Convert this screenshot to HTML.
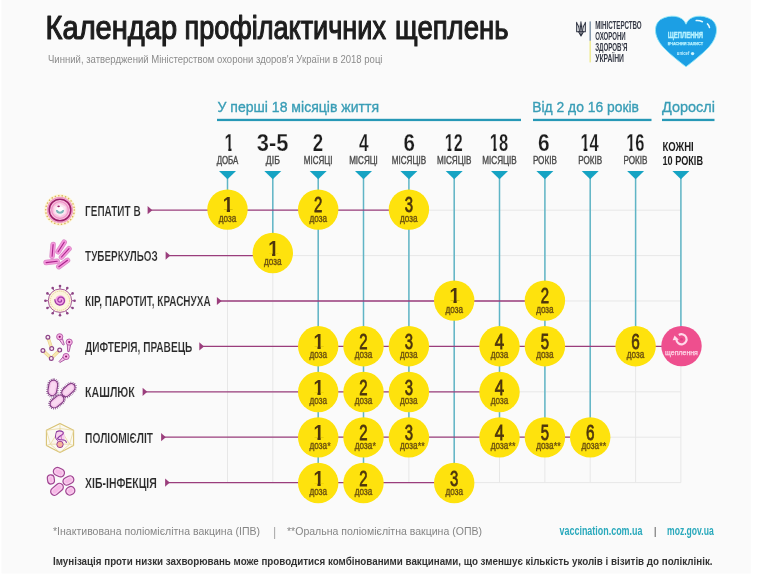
<!DOCTYPE html>
<html lang="uk"><head><meta charset="utf-8"><title>Календар профілактичних щеплень</title>
<style>
html,body{margin:0;padding:0;background:#fff;}
svg{display:block;font-family:'Liberation Sans', sans-serif;}
</style></head><body>
<svg width="772" height="579" viewBox="0 0 772 579">
<defs><filter id="soft" x="0" y="0" width="772" height="579" filterUnits="userSpaceOnUse"><feGaussianBlur stdDeviation="0.45"/></filter>
<clipPath id="hc0"><polygon points="220.22,120.00 238.58,120.00 238.58,156.00 234.20,156.00 234.20,147.70 231.50,147.70 231.50,156.00 228.30,156.00 228.30,147.70 220.22,147.70"/></clipPath>
<clipPath id="hc5"><polygon points="441.72,120.00 468.64,120.00 468.64,156.00 454.10,156.00 454.10,147.70 451.40,147.70 451.40,156.00 447.60,156.00 447.60,147.70 441.72,147.70"/></clipPath>
<clipPath id="hc6"><polygon points="486.73,120.00 514.11,120.00 514.11,156.00 499.30,156.00 499.30,147.70 496.60,147.70 496.60,156.00 493.40,156.00 493.40,147.70 486.73,147.70"/></clipPath>
<clipPath id="hc8"><polygon points="577.39,120.00 604.76,120.00 604.76,156.00 590.10,156.00 590.10,147.70 587.40,147.70 587.40,156.00 583.60,156.00 583.60,147.70 577.39,147.70"/></clipPath>
<clipPath id="hc9"><polygon points="623.15,120.00 650.53,120.00 650.53,156.00 635.30,156.00 635.30,147.70 632.60,147.70 632.60,156.00 629.40,156.00 629.40,147.70 623.15,147.70"/></clipPath>
<clipPath id="c0_0"><polygon points="218.50,191.60 236.50,191.60 236.50,214.60 236.50,214.60 236.50,209.80 230.00,209.80 230.00,214.60 226.80,214.60 226.80,209.80 218.50,209.80"/></clipPath>
<clipPath id="c1_1"><polygon points="263.84,235.00 281.84,235.00 281.84,258.00 281.84,258.00 281.84,253.20 275.34,253.20 275.34,258.00 272.14,258.00 272.14,253.20 263.84,253.20"/></clipPath>
<clipPath id="c2_5"><polygon points="445.20,282.60 463.20,282.60 463.20,305.60 463.20,305.60 463.20,300.80 456.70,300.80 456.70,305.60 453.50,305.60 453.50,300.80 445.20,300.80"/></clipPath>
<clipPath id="c3_2"><polygon points="309.18,328.20 327.18,328.20 327.18,351.20 327.18,351.20 327.18,346.40 320.68,346.40 320.68,351.20 317.48,351.20 317.48,346.40 309.18,346.40"/></clipPath>
<clipPath id="c4_2"><polygon points="309.18,374.00 327.18,374.00 327.18,397.00 327.18,397.00 327.18,392.20 320.68,392.20 320.68,397.00 317.48,397.00 317.48,392.20 309.18,392.20"/></clipPath>
<clipPath id="c5_2"><polygon points="309.18,419.40 327.18,419.40 327.18,442.40 327.18,442.40 327.18,437.60 320.68,437.60 320.68,442.40 317.48,442.40 317.48,437.60 309.18,437.60"/></clipPath>
<clipPath id="c6_2"><polygon points="309.18,465.00 327.18,465.00 327.18,488.00 327.18,488.00 327.18,483.20 320.68,483.20 320.68,488.00 317.48,488.00 317.48,483.20 309.18,483.20"/></clipPath>
</defs>
<g filter="url(#soft)">
<rect x="0" y="0" width="772" height="579" fill="#ffffff"/>
<rect x="1.5" y="0" width="749.3" height="573.5" fill="#fafafa"/>
<text x="45.6" y="38.6" font-size="32.4" fill="#1f1f1f" font-weight="normal" text-anchor="start" textLength="131.5" lengthAdjust="spacingAndGlyphs" stroke="#1f1f1f" stroke-width="1.2" stroke-linejoin="round">Календар</text>
<text x="184.6" y="38.6" font-size="32.4" fill="#1f1f1f" font-weight="normal" text-anchor="start" textLength="201.4" lengthAdjust="spacingAndGlyphs" stroke="#1f1f1f" stroke-width="1.2" stroke-linejoin="round">профілактичних</text>
<text x="395.1" y="38.6" font-size="32.4" fill="#1f1f1f" font-weight="normal" text-anchor="start" textLength="113.4" lengthAdjust="spacingAndGlyphs" stroke="#1f1f1f" stroke-width="1.2" stroke-linejoin="round">щеплень</text>
<text x="48" y="63" font-size="10.2" fill="#8c8c8c" font-weight="normal" text-anchor="start" textLength="334.5" lengthAdjust="spacingAndGlyphs">Чинний, затверджений Міністерством охорони здоров'я України в 2018 році</text>
<text x="217.5" y="112.4" font-size="15.4" fill="#389db6" font-weight="normal" text-anchor="start" textLength="161.5" lengthAdjust="spacingAndGlyphs" stroke="#389db6" stroke-width="0.35">У перші 18 місяців життя</text>
<text x="532.2" y="112.4" font-size="15.4" fill="#389db6" font-weight="normal" text-anchor="start" textLength="106.8" lengthAdjust="spacingAndGlyphs" stroke="#389db6" stroke-width="0.35">Від 2 до 16 років</text>
<text x="662" y="112.4" font-size="15.4" fill="#389db6" font-weight="normal" text-anchor="start" textLength="53" lengthAdjust="spacingAndGlyphs" stroke="#389db6" stroke-width="0.35">Дорослі</text>
<rect x="217" y="118.8" width="304" height="2.3" fill="#2898b6"/>
<rect x="533" y="118.8" width="118.5" height="2.3" fill="#2898b6"/>
<rect x="662" y="118.8" width="52.5" height="2.3" fill="#2898b6"/>
<line x1="227.5" y1="190" x2="227.5" y2="482.6" stroke="#e7e7e7" stroke-width="1"/>
<line x1="272.8" y1="190" x2="272.8" y2="482.6" stroke="#e7e7e7" stroke-width="1"/>
<line x1="318.2" y1="190" x2="318.2" y2="482.6" stroke="#e7e7e7" stroke-width="1"/>
<line x1="363.5" y1="190" x2="363.5" y2="482.6" stroke="#e7e7e7" stroke-width="1"/>
<line x1="408.9" y1="190" x2="408.9" y2="482.6" stroke="#e7e7e7" stroke-width="1"/>
<line x1="454.2" y1="190" x2="454.2" y2="482.6" stroke="#e7e7e7" stroke-width="1"/>
<line x1="499.5" y1="190" x2="499.5" y2="482.6" stroke="#e7e7e7" stroke-width="1"/>
<line x1="544.9" y1="190" x2="544.9" y2="482.6" stroke="#e7e7e7" stroke-width="1"/>
<line x1="590.2" y1="190" x2="590.2" y2="482.6" stroke="#e7e7e7" stroke-width="1"/>
<line x1="635.6" y1="190" x2="635.6" y2="482.6" stroke="#e7e7e7" stroke-width="1"/>
<line x1="680.9" y1="190" x2="680.9" y2="482.6" stroke="#e7e7e7" stroke-width="1"/>
<line x1="227.5" y1="210.2" x2="680.9" y2="210.2" stroke="#e7e7e7" stroke-width="1"/>
<line x1="227.5" y1="255.6" x2="680.9" y2="255.6" stroke="#e7e7e7" stroke-width="1"/>
<line x1="227.5" y1="301.0" x2="680.9" y2="301.0" stroke="#e7e7e7" stroke-width="1"/>
<line x1="227.5" y1="346.4" x2="680.9" y2="346.4" stroke="#e7e7e7" stroke-width="1"/>
<line x1="227.5" y1="391.8" x2="680.9" y2="391.8" stroke="#e7e7e7" stroke-width="1"/>
<line x1="227.5" y1="437.2" x2="680.9" y2="437.2" stroke="#e7e7e7" stroke-width="1"/>
<line x1="227.5" y1="482.6" x2="680.9" y2="482.6" stroke="#e7e7e7" stroke-width="1"/>
<text x="224.52" y="150.6" font-size="23.3" fill="#1f1f1f" font-weight="bold" text-anchor="start" textLength="9.36" lengthAdjust="spacingAndGlyphs" clip-path="url(#hc0)" stroke="#fafafa" stroke-width="0.25">1</text>
<text x="216.65" y="164.3" font-size="11.2" fill="#4a4a4a" font-weight="normal" text-anchor="start" textLength="21.7" lengthAdjust="spacingAndGlyphs" stroke="#4a4a4a" stroke-width="0.4">ДОБА</text>
<text x="256.77" y="150.6" font-size="23.3" fill="#1f1f1f" font-weight="bold" text-anchor="start" textLength="31.71" lengthAdjust="spacingAndGlyphs" stroke="#fafafa" stroke-width="0.25">3-5</text>
<text x="265.84" y="164.3" font-size="11.2" fill="#4a4a4a" font-weight="normal" text-anchor="start" textLength="14" lengthAdjust="spacingAndGlyphs" stroke="#4a4a4a" stroke-width="0.4">ДІБ</text>
<text x="312.74" y="150.6" font-size="23.3" fill="#1f1f1f" font-weight="bold" text-anchor="start" textLength="10.38" lengthAdjust="spacingAndGlyphs" stroke="#fafafa" stroke-width="0.25">2</text>
<text x="303.83" y="164.3" font-size="11.2" fill="#4a4a4a" font-weight="normal" text-anchor="start" textLength="28.7" lengthAdjust="spacingAndGlyphs" stroke="#4a4a4a" stroke-width="0.4">МІСЯЦІ</text>
<text x="359.02" y="150.6" font-size="23.3" fill="#1f1f1f" font-weight="bold" text-anchor="start" textLength="9.6" lengthAdjust="spacingAndGlyphs" stroke="#fafafa" stroke-width="0.25">4</text>
<text x="349.17" y="164.3" font-size="11.2" fill="#4a4a4a" font-weight="normal" text-anchor="start" textLength="28.7" lengthAdjust="spacingAndGlyphs" stroke="#4a4a4a" stroke-width="0.4">МІСЯЦІ</text>
<text x="403.48" y="150.6" font-size="23.3" fill="#1f1f1f" font-weight="bold" text-anchor="start" textLength="11.43" lengthAdjust="spacingAndGlyphs" stroke="#fafafa" stroke-width="0.25">6</text>
<text x="391.66" y="164.3" font-size="11.2" fill="#4a4a4a" font-weight="normal" text-anchor="start" textLength="34.4" lengthAdjust="spacingAndGlyphs" stroke="#4a4a4a" stroke-width="0.4">МІСЯЦІВ</text>
<text x="444.72" y="150.6" font-size="23.3" fill="#1f1f1f" font-weight="bold" text-anchor="start" textLength="17.92" lengthAdjust="spacingAndGlyphs" clip-path="url(#hc5)" stroke="#fafafa" stroke-width="0.25">12</text>
<text x="437.0" y="164.3" font-size="11.2" fill="#4a4a4a" font-weight="normal" text-anchor="start" textLength="34.4" lengthAdjust="spacingAndGlyphs" stroke="#4a4a4a" stroke-width="0.4">МІСЯЦІВ</text>
<text x="489.73" y="150.6" font-size="23.3" fill="#1f1f1f" font-weight="bold" text-anchor="start" textLength="18.38" lengthAdjust="spacingAndGlyphs" clip-path="url(#hc6)" stroke="#fafafa" stroke-width="0.25">18</text>
<text x="482.34" y="164.3" font-size="11.2" fill="#4a4a4a" font-weight="normal" text-anchor="start" textLength="34.4" lengthAdjust="spacingAndGlyphs" stroke="#4a4a4a" stroke-width="0.4">МІСЯЦІВ</text>
<text x="537.98" y="150.6" font-size="23.3" fill="#1f1f1f" font-weight="bold" text-anchor="start" textLength="11.67" lengthAdjust="spacingAndGlyphs" stroke="#fafafa" stroke-width="0.25">6</text>
<text x="532.88" y="164.3" font-size="11.2" fill="#4a4a4a" font-weight="normal" text-anchor="start" textLength="24" lengthAdjust="spacingAndGlyphs" stroke="#4a4a4a" stroke-width="0.4">РОКІВ</text>
<text x="580.39" y="150.6" font-size="23.3" fill="#1f1f1f" font-weight="bold" text-anchor="start" textLength="18.37" lengthAdjust="spacingAndGlyphs" clip-path="url(#hc8)" stroke="#fafafa" stroke-width="0.25">14</text>
<text x="578.22" y="164.3" font-size="11.2" fill="#4a4a4a" font-weight="normal" text-anchor="start" textLength="24" lengthAdjust="spacingAndGlyphs" stroke="#4a4a4a" stroke-width="0.4">РОКІВ</text>
<text x="626.15" y="150.6" font-size="23.3" fill="#1f1f1f" font-weight="bold" text-anchor="start" textLength="18.38" lengthAdjust="spacingAndGlyphs" clip-path="url(#hc9)" stroke="#fafafa" stroke-width="0.25">16</text>
<text x="623.56" y="164.3" font-size="11.2" fill="#4a4a4a" font-weight="normal" text-anchor="start" textLength="24" lengthAdjust="spacingAndGlyphs" stroke="#4a4a4a" stroke-width="0.4">РОКІВ</text>
<text x="662.5" y="151.3" font-size="12.7" fill="#1f1f1f" font-weight="bold" text-anchor="start" textLength="31.2" lengthAdjust="spacingAndGlyphs">КОЖНІ</text>
<text x="662.5" y="164.5" font-size="12.7" fill="#1f1f1f" font-weight="bold" text-anchor="start" textLength="40.5" lengthAdjust="spacingAndGlyphs">10 РОКІВ</text>
<line x1="227.5" y1="178" x2="227.5" y2="209.6" stroke="#5fb5c6" stroke-width="1.5"/>
<path d="M219.0 171 L236.0 171 L227.5 179.2 Z" fill="#18a3c3"/>
<line x1="272.8" y1="178" x2="272.8" y2="253.0" stroke="#5fb5c6" stroke-width="1.5"/>
<path d="M264.3 171 L281.3 171 L272.8 179.2 Z" fill="#18a3c3"/>
<line x1="318.2" y1="178" x2="318.2" y2="483.0" stroke="#5fb5c6" stroke-width="1.5"/>
<path d="M309.7 171 L326.7 171 L318.2 179.2 Z" fill="#18a3c3"/>
<line x1="363.5" y1="178" x2="363.5" y2="483.0" stroke="#5fb5c6" stroke-width="1.5"/>
<path d="M355.0 171 L372.0 171 L363.5 179.2 Z" fill="#18a3c3"/>
<line x1="408.9" y1="178" x2="408.9" y2="437.4" stroke="#5fb5c6" stroke-width="1.5"/>
<path d="M400.4 171 L417.4 171 L408.9 179.2 Z" fill="#18a3c3"/>
<line x1="454.2" y1="178" x2="454.2" y2="483.0" stroke="#5fb5c6" stroke-width="1.5"/>
<path d="M445.7 171 L462.7 171 L454.2 179.2 Z" fill="#18a3c3"/>
<line x1="499.5" y1="178" x2="499.5" y2="437.4" stroke="#5fb5c6" stroke-width="1.5"/>
<path d="M491.0 171 L508.0 171 L499.5 179.2 Z" fill="#18a3c3"/>
<line x1="544.9" y1="178" x2="544.9" y2="437.4" stroke="#5fb5c6" stroke-width="1.5"/>
<path d="M536.4 171 L553.4 171 L544.9 179.2 Z" fill="#18a3c3"/>
<line x1="590.2" y1="178" x2="590.2" y2="437.4" stroke="#5fb5c6" stroke-width="1.5"/>
<path d="M581.7 171 L598.7 171 L590.2 179.2 Z" fill="#18a3c3"/>
<line x1="635.6" y1="178" x2="635.6" y2="346.2" stroke="#5fb5c6" stroke-width="1.5"/>
<path d="M627.1 171 L644.1 171 L635.6 179.2 Z" fill="#18a3c3"/>
<line x1="680.9" y1="178" x2="680.9" y2="346.2" stroke="#5fb5c6" stroke-width="1.5"/>
<path d="M672.4 171 L689.4 171 L680.9 179.2 Z" fill="#18a3c3"/>
<text x="85.1" y="216.0" font-size="14.5" fill="#2b2b2b" font-weight="bold" text-anchor="start" textLength="55.5" lengthAdjust="spacingAndGlyphs" stroke="#fafafa" stroke-width="0.18">ГЕПАТИТ В</text>
<line x1="149" y1="210.2" x2="408.9" y2="210.2" stroke="#9a3e7c" stroke-width="1.3"/>
<path d="M147.6 206.1 L152.3 210.2 L147.6 214.3 Z" fill="#9a3e7c"/>
<text x="85.1" y="260.8" font-size="14.5" fill="#2b2b2b" font-weight="bold" text-anchor="start" textLength="72.5" lengthAdjust="spacingAndGlyphs" stroke="#fafafa" stroke-width="0.18">ТУБЕРКУЛЬОЗ</text>
<line x1="167" y1="255.6" x2="272.8" y2="255.6" stroke="#9a3e7c" stroke-width="1.3"/>
<path d="M165.6 251.5 L170.3 255.6 L165.6 259.7 Z" fill="#9a3e7c"/>
<text x="85.1" y="305.6" font-size="14.5" fill="#2b2b2b" font-weight="bold" text-anchor="start" textLength="125.5" lengthAdjust="spacingAndGlyphs" stroke="#fafafa" stroke-width="0.18">КІР, ПАРОТИТ, КРАСНУХА</text>
<line x1="218.3" y1="301.0" x2="544.9" y2="301.0" stroke="#9a3e7c" stroke-width="1.3"/>
<path d="M216.9 296.9 L221.60000000000002 301.0 L216.9 305.1 Z" fill="#9a3e7c"/>
<text x="85.1" y="351.6" font-size="14.5" fill="#2b2b2b" font-weight="bold" text-anchor="start" textLength="107.2" lengthAdjust="spacingAndGlyphs" stroke="#fafafa" stroke-width="0.18">ДИФТЕРІЯ, ПРАВЕЦЬ</text>
<line x1="200.7" y1="346.4" x2="680.9" y2="346.4" stroke="#9a3e7c" stroke-width="1.3"/>
<path d="M199.29999999999998 342.3 L204.0 346.4 L199.29999999999998 350.5 Z" fill="#9a3e7c"/>
<text x="85.1" y="397.3" font-size="14.5" fill="#2b2b2b" font-weight="bold" text-anchor="start" textLength="49.7" lengthAdjust="spacingAndGlyphs" stroke="#fafafa" stroke-width="0.18">КАШЛЮК</text>
<line x1="144" y1="391.8" x2="499.5" y2="391.8" stroke="#9a3e7c" stroke-width="1.3"/>
<path d="M142.6 387.7 L147.3 391.8 L142.6 395.9 Z" fill="#9a3e7c"/>
<text x="85.1" y="442.7" font-size="14.5" fill="#2b2b2b" font-weight="bold" text-anchor="start" textLength="68.0" lengthAdjust="spacingAndGlyphs" stroke="#fafafa" stroke-width="0.18">ПОЛІОМІЄЛІТ</text>
<line x1="162.5" y1="437.2" x2="590.2" y2="437.2" stroke="#9a3e7c" stroke-width="1.3"/>
<path d="M161.1 433.1 L165.8 437.2 L161.1 441.3 Z" fill="#9a3e7c"/>
<text x="85.1" y="487.8" font-size="14.5" fill="#2b2b2b" font-weight="bold" text-anchor="start" textLength="71.7" lengthAdjust="spacingAndGlyphs" stroke="#fafafa" stroke-width="0.18">ХІБ-ІНФЕКЦІЯ</text>
<line x1="166.5" y1="482.6" x2="454.2" y2="482.6" stroke="#9a3e7c" stroke-width="1.3"/>
<path d="M165.1 478.5 L169.8 482.6 L165.1 486.7 Z" fill="#9a3e7c"/>
<circle cx="227.5" cy="209.6" r="20.2" fill="#fee207"/>
<text x="222.8" y="212.1" font-size="22.5" fill="#4d3509" font-weight="bold" text-anchor="start" textLength="10.5" lengthAdjust="spacingAndGlyphs" clip-path="url(#c0_0)">1</text>
<text x="218.75" y="221.6" font-size="10" fill="#6e5310" font-weight="normal" text-anchor="start" textLength="17.5" lengthAdjust="spacingAndGlyphs" stroke="#6e5310" stroke-width="0.4">доза</text>
<circle cx="318.2" cy="209.6" r="20.2" fill="#fee207"/>
<text x="314.03" y="212.1" font-size="22.5" fill="#4d3509" font-weight="normal" text-anchor="start" textLength="8.3" lengthAdjust="spacingAndGlyphs" stroke="#4d3509" stroke-width="0.8">2</text>
<text x="309.43" y="221.6" font-size="10" fill="#6e5310" font-weight="normal" text-anchor="start" textLength="17.5" lengthAdjust="spacingAndGlyphs" stroke="#6e5310" stroke-width="0.4">доза</text>
<circle cx="408.9" cy="209.6" r="20.2" fill="#fee207"/>
<text x="404.71" y="212.1" font-size="22.5" fill="#4d3509" font-weight="normal" text-anchor="start" textLength="8.3" lengthAdjust="spacingAndGlyphs" stroke="#4d3509" stroke-width="0.8">3</text>
<text x="400.11" y="221.6" font-size="10" fill="#6e5310" font-weight="normal" text-anchor="start" textLength="17.5" lengthAdjust="spacingAndGlyphs" stroke="#6e5310" stroke-width="0.4">доза</text>
<circle cx="272.8" cy="253.0" r="20.2" fill="#fee207"/>
<text x="268.14" y="255.5" font-size="22.5" fill="#4d3509" font-weight="bold" text-anchor="start" textLength="10.5" lengthAdjust="spacingAndGlyphs" clip-path="url(#c1_1)">1</text>
<text x="264.09" y="265.0" font-size="10" fill="#6e5310" font-weight="normal" text-anchor="start" textLength="17.5" lengthAdjust="spacingAndGlyphs" stroke="#6e5310" stroke-width="0.4">доза</text>
<circle cx="454.2" cy="300.6" r="20.2" fill="#fee207"/>
<text x="449.5" y="303.1" font-size="22.5" fill="#4d3509" font-weight="bold" text-anchor="start" textLength="10.5" lengthAdjust="spacingAndGlyphs" clip-path="url(#c2_5)">1</text>
<text x="445.45" y="312.6" font-size="10" fill="#6e5310" font-weight="normal" text-anchor="start" textLength="17.5" lengthAdjust="spacingAndGlyphs" stroke="#6e5310" stroke-width="0.4">доза</text>
<circle cx="544.9" cy="300.6" r="20.2" fill="#fee207"/>
<text x="540.73" y="303.1" font-size="22.5" fill="#4d3509" font-weight="normal" text-anchor="start" textLength="8.3" lengthAdjust="spacingAndGlyphs" stroke="#4d3509" stroke-width="0.8">2</text>
<text x="536.13" y="312.6" font-size="10" fill="#6e5310" font-weight="normal" text-anchor="start" textLength="17.5" lengthAdjust="spacingAndGlyphs" stroke="#6e5310" stroke-width="0.4">доза</text>
<circle cx="318.2" cy="346.2" r="20.2" fill="#fee207"/>
<text x="313.48" y="348.7" font-size="22.5" fill="#4d3509" font-weight="bold" text-anchor="start" textLength="10.5" lengthAdjust="spacingAndGlyphs" clip-path="url(#c3_2)">1</text>
<text x="309.43" y="358.2" font-size="10" fill="#6e5310" font-weight="normal" text-anchor="start" textLength="17.5" lengthAdjust="spacingAndGlyphs" stroke="#6e5310" stroke-width="0.4">доза</text>
<circle cx="363.5" cy="346.2" r="20.2" fill="#fee207"/>
<text x="359.37" y="348.7" font-size="22.5" fill="#4d3509" font-weight="normal" text-anchor="start" textLength="8.3" lengthAdjust="spacingAndGlyphs" stroke="#4d3509" stroke-width="0.8">2</text>
<text x="354.77" y="358.2" font-size="10" fill="#6e5310" font-weight="normal" text-anchor="start" textLength="17.5" lengthAdjust="spacingAndGlyphs" stroke="#6e5310" stroke-width="0.4">доза</text>
<circle cx="408.9" cy="346.2" r="20.2" fill="#fee207"/>
<text x="404.71" y="348.7" font-size="22.5" fill="#4d3509" font-weight="normal" text-anchor="start" textLength="8.3" lengthAdjust="spacingAndGlyphs" stroke="#4d3509" stroke-width="0.8">3</text>
<text x="400.11" y="358.2" font-size="10" fill="#6e5310" font-weight="normal" text-anchor="start" textLength="17.5" lengthAdjust="spacingAndGlyphs" stroke="#6e5310" stroke-width="0.4">доза</text>
<circle cx="499.5" cy="346.2" r="20.2" fill="#fee207"/>
<text x="494.84" y="348.7" font-size="22.5" fill="#4d3509" font-weight="normal" text-anchor="start" textLength="9.4" lengthAdjust="spacingAndGlyphs" stroke="#4d3509" stroke-width="0.8">4</text>
<text x="490.79" y="358.2" font-size="10" fill="#6e5310" font-weight="normal" text-anchor="start" textLength="17.5" lengthAdjust="spacingAndGlyphs" stroke="#6e5310" stroke-width="0.4">доза</text>
<circle cx="544.9" cy="346.2" r="20.2" fill="#fee207"/>
<text x="540.73" y="348.7" font-size="22.5" fill="#4d3509" font-weight="normal" text-anchor="start" textLength="8.3" lengthAdjust="spacingAndGlyphs" stroke="#4d3509" stroke-width="0.8">5</text>
<text x="536.13" y="358.2" font-size="10" fill="#6e5310" font-weight="normal" text-anchor="start" textLength="17.5" lengthAdjust="spacingAndGlyphs" stroke="#6e5310" stroke-width="0.4">доза</text>
<circle cx="635.6" cy="346.2" r="20.2" fill="#fee207"/>
<text x="631.31" y="348.7" font-size="22.5" fill="#4d3509" font-weight="normal" text-anchor="start" textLength="8.5" lengthAdjust="spacingAndGlyphs" stroke="#4d3509" stroke-width="0.8">6</text>
<text x="626.81" y="358.2" font-size="10" fill="#6e5310" font-weight="normal" text-anchor="start" textLength="17.5" lengthAdjust="spacingAndGlyphs" stroke="#6e5310" stroke-width="0.4">доза</text>
<circle cx="318.2" cy="392.0" r="20.2" fill="#fee207"/>
<text x="313.48" y="394.5" font-size="22.5" fill="#4d3509" font-weight="bold" text-anchor="start" textLength="10.5" lengthAdjust="spacingAndGlyphs" clip-path="url(#c4_2)">1</text>
<text x="309.43" y="404.0" font-size="10" fill="#6e5310" font-weight="normal" text-anchor="start" textLength="17.5" lengthAdjust="spacingAndGlyphs" stroke="#6e5310" stroke-width="0.4">доза</text>
<circle cx="363.5" cy="392.0" r="20.2" fill="#fee207"/>
<text x="359.37" y="394.5" font-size="22.5" fill="#4d3509" font-weight="normal" text-anchor="start" textLength="8.3" lengthAdjust="spacingAndGlyphs" stroke="#4d3509" stroke-width="0.8">2</text>
<text x="354.77" y="404.0" font-size="10" fill="#6e5310" font-weight="normal" text-anchor="start" textLength="17.5" lengthAdjust="spacingAndGlyphs" stroke="#6e5310" stroke-width="0.4">доза</text>
<circle cx="408.9" cy="392.0" r="20.2" fill="#fee207"/>
<text x="404.71" y="394.5" font-size="22.5" fill="#4d3509" font-weight="normal" text-anchor="start" textLength="8.3" lengthAdjust="spacingAndGlyphs" stroke="#4d3509" stroke-width="0.8">3</text>
<text x="400.11" y="404.0" font-size="10" fill="#6e5310" font-weight="normal" text-anchor="start" textLength="17.5" lengthAdjust="spacingAndGlyphs" stroke="#6e5310" stroke-width="0.4">доза</text>
<circle cx="499.5" cy="392.0" r="20.2" fill="#fee207"/>
<text x="494.84" y="394.5" font-size="22.5" fill="#4d3509" font-weight="normal" text-anchor="start" textLength="9.4" lengthAdjust="spacingAndGlyphs" stroke="#4d3509" stroke-width="0.8">4</text>
<text x="490.79" y="404.0" font-size="10" fill="#6e5310" font-weight="normal" text-anchor="start" textLength="17.5" lengthAdjust="spacingAndGlyphs" stroke="#6e5310" stroke-width="0.4">доза</text>
<circle cx="318.2" cy="437.4" r="20.2" fill="#fee207"/>
<text x="313.48" y="439.9" font-size="22.5" fill="#4d3509" font-weight="bold" text-anchor="start" textLength="10.5" lengthAdjust="spacingAndGlyphs" clip-path="url(#c5_2)">1</text>
<text x="309.43" y="449.4" font-size="10" fill="#6e5310" font-weight="normal" text-anchor="start" textLength="17.5" lengthAdjust="spacingAndGlyphs" stroke="#6e5310" stroke-width="0.4">доза</text>
<text x="327.13" y="449.6" font-size="10.5" fill="#6e5310" font-weight="bold" text-anchor="start" textLength="3.5" lengthAdjust="spacingAndGlyphs">*</text>
<circle cx="363.5" cy="437.4" r="20.2" fill="#fee207"/>
<text x="359.37" y="439.9" font-size="22.5" fill="#4d3509" font-weight="normal" text-anchor="start" textLength="8.3" lengthAdjust="spacingAndGlyphs" stroke="#4d3509" stroke-width="0.8">2</text>
<text x="354.77" y="449.4" font-size="10" fill="#6e5310" font-weight="normal" text-anchor="start" textLength="17.5" lengthAdjust="spacingAndGlyphs" stroke="#6e5310" stroke-width="0.4">доза</text>
<text x="372.47" y="449.6" font-size="10.5" fill="#6e5310" font-weight="bold" text-anchor="start" textLength="3.5" lengthAdjust="spacingAndGlyphs">*</text>
<circle cx="408.9" cy="437.4" r="20.2" fill="#fee207"/>
<text x="404.71" y="439.9" font-size="22.5" fill="#4d3509" font-weight="normal" text-anchor="start" textLength="8.3" lengthAdjust="spacingAndGlyphs" stroke="#4d3509" stroke-width="0.8">3</text>
<text x="400.11" y="449.4" font-size="10" fill="#6e5310" font-weight="normal" text-anchor="start" textLength="17.5" lengthAdjust="spacingAndGlyphs" stroke="#6e5310" stroke-width="0.4">доза</text>
<text x="417.81" y="449.6" font-size="10.5" fill="#6e5310" font-weight="bold" text-anchor="start" textLength="7.0" lengthAdjust="spacingAndGlyphs">**</text>
<circle cx="499.5" cy="437.4" r="20.2" fill="#fee207"/>
<text x="494.84" y="439.9" font-size="22.5" fill="#4d3509" font-weight="normal" text-anchor="start" textLength="9.4" lengthAdjust="spacingAndGlyphs" stroke="#4d3509" stroke-width="0.8">4</text>
<text x="490.79" y="449.4" font-size="10" fill="#6e5310" font-weight="normal" text-anchor="start" textLength="17.5" lengthAdjust="spacingAndGlyphs" stroke="#6e5310" stroke-width="0.4">доза</text>
<text x="508.49" y="449.6" font-size="10.5" fill="#6e5310" font-weight="bold" text-anchor="start" textLength="7.0" lengthAdjust="spacingAndGlyphs">**</text>
<circle cx="544.9" cy="437.4" r="20.2" fill="#fee207"/>
<text x="540.73" y="439.9" font-size="22.5" fill="#4d3509" font-weight="normal" text-anchor="start" textLength="8.3" lengthAdjust="spacingAndGlyphs" stroke="#4d3509" stroke-width="0.8">5</text>
<text x="536.13" y="449.4" font-size="10" fill="#6e5310" font-weight="normal" text-anchor="start" textLength="17.5" lengthAdjust="spacingAndGlyphs" stroke="#6e5310" stroke-width="0.4">доза</text>
<text x="553.83" y="449.6" font-size="10.5" fill="#6e5310" font-weight="bold" text-anchor="start" textLength="7.0" lengthAdjust="spacingAndGlyphs">**</text>
<circle cx="590.2" cy="437.4" r="20.2" fill="#fee207"/>
<text x="585.97" y="439.9" font-size="22.5" fill="#4d3509" font-weight="normal" text-anchor="start" textLength="8.5" lengthAdjust="spacingAndGlyphs" stroke="#4d3509" stroke-width="0.8">6</text>
<text x="581.47" y="449.4" font-size="10" fill="#6e5310" font-weight="normal" text-anchor="start" textLength="17.5" lengthAdjust="spacingAndGlyphs" stroke="#6e5310" stroke-width="0.4">доза</text>
<text x="599.17" y="449.6" font-size="10.5" fill="#6e5310" font-weight="bold" text-anchor="start" textLength="7.0" lengthAdjust="spacingAndGlyphs">**</text>
<circle cx="318.2" cy="483.0" r="20.2" fill="#fee207"/>
<text x="313.48" y="485.5" font-size="22.5" fill="#4d3509" font-weight="bold" text-anchor="start" textLength="10.5" lengthAdjust="spacingAndGlyphs" clip-path="url(#c6_2)">1</text>
<text x="309.43" y="495.0" font-size="10" fill="#6e5310" font-weight="normal" text-anchor="start" textLength="17.5" lengthAdjust="spacingAndGlyphs" stroke="#6e5310" stroke-width="0.4">доза</text>
<circle cx="363.5" cy="483.0" r="20.2" fill="#fee207"/>
<text x="359.37" y="485.5" font-size="22.5" fill="#4d3509" font-weight="normal" text-anchor="start" textLength="8.3" lengthAdjust="spacingAndGlyphs" stroke="#4d3509" stroke-width="0.8">2</text>
<text x="354.77" y="495.0" font-size="10" fill="#6e5310" font-weight="normal" text-anchor="start" textLength="17.5" lengthAdjust="spacingAndGlyphs" stroke="#6e5310" stroke-width="0.4">доза</text>
<circle cx="454.2" cy="483.0" r="20.2" fill="#fee207"/>
<text x="450.05" y="485.5" font-size="22.5" fill="#4d3509" font-weight="normal" text-anchor="start" textLength="8.3" lengthAdjust="spacingAndGlyphs" stroke="#4d3509" stroke-width="0.8">3</text>
<text x="445.45" y="495.0" font-size="10" fill="#6e5310" font-weight="normal" text-anchor="start" textLength="17.5" lengthAdjust="spacingAndGlyphs" stroke="#6e5310" stroke-width="0.4">доза</text>
<circle cx="681.5" cy="346.1" r="20.2" fill="#ee4f8e"/>
<path d="M678.80 334.97 A5.1 5.1 0 1 1 676.41 339.66" fill="none" stroke="#ffd9ea" stroke-width="2.2"/>
<path d="M672.60 340.30 L678.80 339.70 L674.60 335.60 Z" fill="#ffd9ea"/>
<circle cx="681.5" cy="339.3" r="1.3" fill="#e03c85"/>
<text x="665.1" y="355" font-size="8" fill="#ffd6e8" font-weight="normal" text-anchor="start" textLength="32.8" lengthAdjust="spacingAndGlyphs" stroke="#ffd6e8" stroke-width="0.25">щеплення</text>
<text x="53" y="535" font-size="10.8" fill="#858585" font-weight="normal" text-anchor="start" textLength="207" lengthAdjust="spacingAndGlyphs">*Інактивована поліомієлітна вакцина (ІПВ)</text>
<text x="273.0" y="536" font-size="12.5" fill="#a8a8a8" font-weight="normal" text-anchor="start">|</text>
<text x="287" y="535" font-size="10.8" fill="#858585" font-weight="normal" text-anchor="start" textLength="195" lengthAdjust="spacingAndGlyphs">**Оральна поліомієлітна вакцина (ОПВ)</text>
<text x="559.5" y="535" font-size="12" fill="#2aa9bc" font-weight="bold" text-anchor="start" textLength="83" lengthAdjust="spacingAndGlyphs">vaccination.com.ua</text>
<text x="653.8" y="535" font-size="11" fill="#555" font-weight="normal" text-anchor="start">|</text>
<text x="667" y="535" font-size="12" fill="#2aa9bc" font-weight="bold" text-anchor="start" textLength="46.7" lengthAdjust="spacingAndGlyphs">moz.gov.ua</text>
<text x="53" y="564.5" font-size="10.8" fill="#333" font-weight="bold" text-anchor="start" textLength="659.5" lengthAdjust="spacingAndGlyphs">Імунізація проти низки захворювань може проводитися комбінованими вакцинами, що зменшує кількість уколів і візитів до поліклінік.</text>
<g>
<circle cx="60.0" cy="210.0" r="14.3" fill="none" stroke="#fdf4d0" stroke-width="2.8"/>
<circle cx="60.0" cy="210.0" r="14.3" fill="none" stroke="#d8b25e" stroke-width="1.6" stroke-linecap="round" stroke-dasharray="0.01 3.449"/>
<circle cx="60.0" cy="210.0" r="12.5" fill="#f9d3e6" stroke="#f29cc6" stroke-width="1.3"/>
<circle cx="60.0" cy="210.0" r="10.8" fill="#f8c6e0" stroke="#9b1f69" stroke-width="1.6"/>
<circle cx="60.0" cy="210.0" r="8.3" fill="none" stroke="#f092c8" stroke-width="1.3"/>
<polygon points="65.7,213.3 60.0,216.6 54.3,213.3 54.3,206.7 60.0,203.4 65.7,206.7" fill="#fbe6f1"/>
<circle cx="60.0" cy="210.3" r="3.9" fill="#ffffff"/>
<path d="M55.9 209.7 A4.1 4.1 0 0 0 64.1 209.7 L62.2 210.3 A2.4 2.4 0 0 1 57.8 210.3 Z" fill="#7fb5b9"/>
<ellipse cx="58.6" cy="206.3" rx="1.3" ry="0.9" fill="#9b1f69"/>
</g>
<g stroke-linecap="round" fill="none">
<line x1="53.1" y1="244.6" x2="52.1" y2="256.2" stroke="#dc8cc8" stroke-width="5.5"/>
<line x1="64.2" y1="242.2" x2="58.1" y2="251.8" stroke="#dc8cc8" stroke-width="5.5"/>
<line x1="69.0" y1="248.7" x2="61.5" y2="257.0" stroke="#dc8cc8" stroke-width="5.5"/>
<line x1="46.1" y1="262.6" x2="57.2" y2="261.3" stroke="#dc8cc8" stroke-width="5.5"/>
<line x1="67.5" y1="260.3" x2="58.8" y2="266.7" stroke="#dc8cc8" stroke-width="5.5"/>
<line x1="53.1" y1="244.6" x2="52.1" y2="256.2" stroke="#f597dc" stroke-width="4.1"/>
<line x1="64.2" y1="242.2" x2="58.1" y2="251.8" stroke="#f597dc" stroke-width="4.1"/>
<line x1="69.0" y1="248.7" x2="61.5" y2="257.0" stroke="#f597dc" stroke-width="4.1"/>
<line x1="46.1" y1="262.6" x2="57.2" y2="261.3" stroke="#f597dc" stroke-width="4.1"/>
<line x1="67.5" y1="260.3" x2="58.8" y2="266.7" stroke="#f597dc" stroke-width="4.1"/>
<line x1="53.1" y1="244.6" x2="52.1" y2="256.2" stroke="#a8238a" stroke-width="1.1"/>
<line x1="64.2" y1="242.2" x2="58.1" y2="251.8" stroke="#a8238a" stroke-width="1.1"/>
<line x1="69.0" y1="248.7" x2="61.5" y2="257.0" stroke="#a8238a" stroke-width="1.1"/>
<line x1="46.1" y1="262.6" x2="57.2" y2="261.3" stroke="#a8238a" stroke-width="1.1"/>
<line x1="67.5" y1="260.3" x2="58.8" y2="266.7" stroke="#a8238a" stroke-width="1.1"/>
</g>
<g>
<line x1="60.0" y1="289.0" x2="60.0" y2="286.1" stroke="#94408a" stroke-width="0.9"/>
<circle cx="60.0" cy="286.1" r="1.3" fill="#8d4585"/>
<line x1="65.8" y1="290.6" x2="67.3" y2="288.1" stroke="#94408a" stroke-width="0.9"/>
<circle cx="67.3" cy="288.1" r="1.3" fill="#8d4585"/>
<line x1="70.1" y1="294.8" x2="72.6" y2="293.4" stroke="#94408a" stroke-width="0.9"/>
<circle cx="72.6" cy="293.4" r="1.3" fill="#8d4585"/>
<line x1="71.7" y1="300.7" x2="74.6" y2="300.7" stroke="#94408a" stroke-width="0.9"/>
<circle cx="74.6" cy="300.7" r="1.3" fill="#8d4585"/>
<line x1="70.1" y1="306.6" x2="72.6" y2="308.0" stroke="#94408a" stroke-width="0.9"/>
<circle cx="72.6" cy="308.0" r="1.3" fill="#8d4585"/>
<line x1="65.8" y1="310.8" x2="67.3" y2="313.3" stroke="#94408a" stroke-width="0.9"/>
<circle cx="67.3" cy="313.3" r="1.3" fill="#8d4585"/>
<line x1="60.0" y1="312.4" x2="60.0" y2="315.3" stroke="#94408a" stroke-width="0.9"/>
<circle cx="60.0" cy="315.3" r="1.3" fill="#8d4585"/>
<line x1="54.2" y1="310.8" x2="52.7" y2="313.3" stroke="#94408a" stroke-width="0.9"/>
<circle cx="52.7" cy="313.3" r="1.3" fill="#8d4585"/>
<line x1="49.9" y1="306.6" x2="47.4" y2="308.0" stroke="#94408a" stroke-width="0.9"/>
<circle cx="47.4" cy="308.0" r="1.3" fill="#8d4585"/>
<line x1="48.3" y1="300.7" x2="45.4" y2="300.7" stroke="#94408a" stroke-width="0.9"/>
<circle cx="45.4" cy="300.7" r="1.3" fill="#8d4585"/>
<line x1="49.9" y1="294.8" x2="47.4" y2="293.4" stroke="#94408a" stroke-width="0.9"/>
<circle cx="47.4" cy="293.4" r="1.3" fill="#8d4585"/>
<line x1="54.1" y1="290.6" x2="52.7" y2="288.1" stroke="#94408a" stroke-width="0.9"/>
<circle cx="52.7" cy="288.1" r="1.3" fill="#8d4585"/>
<circle cx="60.0" cy="300.7" r="11.7" fill="#fcf6de" stroke="#a85a98" stroke-width="1.0"/>
<circle cx="60.0" cy="300.7" r="9.6" fill="none" stroke="#e3c78a" stroke-width="0.9" stroke-dasharray="1.2 0.9"/>
<circle cx="60.3" cy="300.4" r="5.2" fill="#f6a3e6"/>
<path d="M61.3 300.1 L61.4 300.3 L61.5 300.5 L61.5 300.7 L61.5 300.9 L61.4 301.1 L61.3 301.4 L61.2 301.6 L60.9 301.8 L60.7 301.9 L60.4 302.0 L60.1 302.1 L59.7 302.1 L59.4 302.0 L59.1 301.9 L58.7 301.7 L58.4 301.4 L58.2 301.1 L58.0 300.7 L57.9 300.2 L57.9 299.8 L57.9 299.3 L58.1 298.9 L58.3 298.4 L58.6 298.0 L59.0 297.7 L59.5 297.4 L60.0 297.2 L60.5 297.1 L61.1 297.1 L61.7 297.2 L62.3 297.4 L62.8 297.7 L63.3 298.1 L63.7 298.6 L64.1 299.2 L64.3 299.9 L64.4 300.6 L64.4 301.3 L64.2 302.0 L63.9 302.7 L63.5 303.3 L63.0 303.9 L62.3 304.4 L61.6 304.7 L60.8 304.9 L60.0 305.0 L59.1 305.0 L58.3 304.7 L57.5 304.4 L56.8 303.8 L56.1 303.2 L55.6 302.4 L55.2 301.6 L55.0 300.6 L54.9 299.7" fill="none" stroke="#a03aa6" stroke-width="1.3" stroke-linecap="round" stroke-linejoin="round"/>
</g>
<g>
<line x1="47.9" y1="337.2" x2="51.7" y2="348.6" stroke="#e8cf86" stroke-width="3.3" stroke-linecap="round"/>
<line x1="47.9" y1="337.2" x2="51.7" y2="348.6" stroke="#f8e8b2" stroke-width="2.1" stroke-linecap="round"/>
<line x1="42.9" y1="350.5" x2="51.3" y2="358.4" stroke="#e8cf86" stroke-width="3.3" stroke-linecap="round"/>
<line x1="42.9" y1="350.5" x2="51.3" y2="358.4" stroke="#f8e8b2" stroke-width="2.1" stroke-linecap="round"/>
<line x1="51.3" y1="358.4" x2="59.7" y2="350.1" stroke="#e8cf86" stroke-width="3.3" stroke-linecap="round"/>
<line x1="51.3" y1="358.4" x2="59.7" y2="350.1" stroke="#f8e8b2" stroke-width="2.1" stroke-linecap="round"/>
<circle cx="47.9" cy="337.2" r="1.9" fill="#fbeaf4" stroke="#8c4488" stroke-width="1.2"/>
<circle cx="51.7" cy="348.6" r="1.9" fill="#fbeaf4" stroke="#8c4488" stroke-width="1.2"/>
<circle cx="42.9" cy="350.5" r="1.9" fill="#fbeaf4" stroke="#8c4488" stroke-width="1.2"/>
<circle cx="51.3" cy="358.4" r="1.9" fill="#fbeaf4" stroke="#8c4488" stroke-width="1.2"/>
<circle cx="59.7" cy="350.1" r="1.9" fill="#fbeaf4" stroke="#8c4488" stroke-width="1.2"/>
<path d="M59.3 339.8 L63.1 345.1 L64.3 344.5 L62.3 338.3 Z" fill="#f8c4ea" stroke="#a4509c" stroke-width="0.9" stroke-linejoin="round"/>
<circle cx="59.7" cy="336.8" r="3.1" fill="#f7b4e4" stroke="#b055a5" stroke-width="0.9"/>
<circle cx="59.7" cy="336.8" r="1.1" fill="#8c1470"/>
<path d="M67.3 344.4 L67.7 351.5 L69.1 351.7 L70.7 344.7 Z" fill="#f8c4ea" stroke="#a4509c" stroke-width="0.9" stroke-linejoin="round"/>
<circle cx="69.2" cy="342.1" r="3.1" fill="#f7b4e4" stroke="#b055a5" stroke-width="0.9"/>
<circle cx="69.2" cy="342.1" r="1.1" fill="#8c1470"/>
<path d="M63.1 356.8 L59.1 361.5 L59.9 362.5 L65.3 359.4 Z" fill="#f8c4ea" stroke="#a4509c" stroke-width="0.9" stroke-linejoin="round"/>
<circle cx="66.1" cy="356.5" r="3.1" fill="#f7b4e4" stroke="#b055a5" stroke-width="0.9"/>
<circle cx="66.1" cy="356.5" r="1.1" fill="#8c1470"/>
</g>
<g>
<g transform="translate(52.8 387.9) rotate(10)">
<rect x="-5.10" y="-8.50" width="10.20" height="17.00" rx="4.84" ry="5.86" fill="none" stroke="#7d3a80" stroke-width="2.3" stroke-dasharray="0.6 1.2"/>
<rect x="-4.40" y="-7.80" width="8.80" height="15.60" rx="4.18" ry="5.06" fill="#f6c3ea" stroke="#823c84" stroke-width="1.1"/>
<rect x="-2.80" y="-6.20" width="5.60" height="12.40" rx="2.66" ry="3.22" fill="#f9d9f1" stroke="#ecaee0" stroke-width="0.6" stroke-dasharray="0.6 0.9"/>
</g>
<g transform="translate(68.4 390.1) rotate(47)">
<rect x="-4.90" y="-8.40" width="9.80" height="16.80" rx="4.66" ry="5.63" fill="none" stroke="#7d3a80" stroke-width="2.3" stroke-dasharray="0.6 1.2"/>
<rect x="-4.20" y="-7.70" width="8.40" height="15.40" rx="3.99" ry="4.83" fill="#f6c3ea" stroke="#823c84" stroke-width="1.1"/>
<rect x="-2.60" y="-6.10" width="5.20" height="12.20" rx="2.47" ry="2.99" fill="#f9d9f1" stroke="#ecaee0" stroke-width="0.6" stroke-dasharray="0.6 0.9"/>
</g>
<g transform="translate(57.0 401.5) rotate(52)">
<rect x="-4.90" y="-8.40" width="9.80" height="16.80" rx="4.66" ry="5.63" fill="none" stroke="#7d3a80" stroke-width="2.3" stroke-dasharray="0.6 1.2"/>
<rect x="-4.20" y="-7.70" width="8.40" height="15.40" rx="3.99" ry="4.83" fill="#f6c3ea" stroke="#823c84" stroke-width="1.1"/>
<rect x="-2.60" y="-6.10" width="5.20" height="12.20" rx="2.47" ry="2.99" fill="#f9d9f1" stroke="#ecaee0" stroke-width="0.6" stroke-dasharray="0.6 0.9"/>
</g>
</g>
<g fill="none" stroke-linejoin="round">
<polygon points="60.0,423.4 73.6,430.3 73.6,445.5 60.0,452.6 46.4,445.5 46.4,430.3" fill="#fbf9f1" stroke="#d8c274" stroke-width="1.1"/>
<polygon points="60.0,428.5 69.6,444.2 50.4,444.2" fill="#fbf4ea" stroke="#e6d59a" stroke-width="0.7"/>
<line x1="60.0" y1="423.4" x2="60.0" y2="428.5" stroke="#e6d59a" stroke-width="0.7"/>
<line x1="73.6" y1="430.3" x2="60.0" y2="428.5" stroke="#e6d59a" stroke-width="0.7"/>
<line x1="46.4" y1="430.3" x2="60.0" y2="428.5" stroke="#e6d59a" stroke-width="0.7"/>
<line x1="73.6" y1="430.3" x2="69.6" y2="444.2" stroke="#e6d59a" stroke-width="0.7"/>
<line x1="73.6" y1="445.5" x2="69.6" y2="444.2" stroke="#e6d59a" stroke-width="0.7"/>
<line x1="60.0" y1="452.6" x2="69.6" y2="444.2" stroke="#e6d59a" stroke-width="0.7"/>
<line x1="60.0" y1="452.6" x2="50.4" y2="444.2" stroke="#e6d59a" stroke-width="0.7"/>
<line x1="46.4" y1="445.5" x2="50.4" y2="444.2" stroke="#e6d59a" stroke-width="0.7"/>
<line x1="46.4" y1="430.3" x2="50.4" y2="444.2" stroke="#e6d59a" stroke-width="0.7"/>
<ellipse cx="60.3" cy="436.8" rx="4.6" ry="6.2" fill="#f8d0ee" stroke="none"/>
<path d="M56.5 431.7 C61.0 429.5 65.5 432.5 62.2 434.8 C58.5 437.0 55.5 439.0 59.5 439.6 C63.0 440.0 65.6 439.0 66.4 442.4" stroke="#8a3aa0" stroke-width="1.1" stroke-linecap="round"/>
<path d="M56.4 432.2 C54.8 436.0 55.2 438.5 57.4 440.4" stroke="#8a3aa0" stroke-width="1.0" stroke-linecap="round"/>
<path d="M63.4 432.8 C61.0 435.0 60.5 437.5 61.8 439.2" stroke="#c45ab6" stroke-width="0.9" stroke-linecap="round"/>
<circle cx="60.0" cy="444.4" r="3.2" fill="#f7b79a" stroke="#9a3f98" stroke-width="1.0"/>
</g>
<g>
<g transform="translate(58.9 472.2) rotate(25)">
<rect x="-5.7" y="-4.0" width="11.4" height="8.0" rx="3.92" ry="3.92" fill="#f8c8ec" stroke="#a04692" stroke-width="1.2"/>
<rect x="-4.0" y="-2.4" width="8.0" height="4.8" rx="2.30" ry="2.30" fill="#f6b8e6" stroke="#fbe0f4" stroke-width="0.8" stroke-dasharray="0.7 0.9"/>
</g>
<g transform="translate(50.9 479.4) rotate(-8)">
<rect x="-3.4" y="-4.6" width="6.8" height="9.2" rx="3.33" ry="3.33" fill="#f8c8ec" stroke="#a04692" stroke-width="1.2"/>
<rect x="-1.7" y="-2.9999999999999996" width="3.4" height="5.999999999999999" rx="1.70" ry="1.70" fill="#f6b8e6" stroke="#fbe0f4" stroke-width="0.8" stroke-dasharray="0.7 0.9"/>
</g>
<g transform="translate(68.4 480.5) rotate(-27)">
<rect x="-5.6" y="-3.8" width="11.2" height="7.6" rx="3.72" ry="3.72" fill="#f8c8ec" stroke="#a04692" stroke-width="1.2"/>
<rect x="-3.8999999999999995" y="-2.1999999999999997" width="7.799999999999999" height="4.3999999999999995" rx="2.10" ry="2.10" fill="#f6b8e6" stroke="#fbe0f4" stroke-width="0.8" stroke-dasharray="0.7 0.9"/>
</g>
<g transform="translate(57.0 489.3) rotate(-41)">
<rect x="-7.1" y="-3.8" width="14.2" height="7.6" rx="3.72" ry="3.72" fill="#f8c8ec" stroke="#a04692" stroke-width="1.2"/>
<rect x="-5.3999999999999995" y="-2.1999999999999997" width="10.799999999999999" height="4.3999999999999995" rx="2.10" ry="2.10" fill="#f6b8e6" stroke="#fbe0f4" stroke-width="0.8" stroke-dasharray="0.7 0.9"/>
</g>
<g transform="translate(70.3 490.8) rotate(-30)">
<rect x="-4.6" y="-4.0" width="9.2" height="8.0" rx="3.92" ry="3.92" fill="#f8c8ec" stroke="#a04692" stroke-width="1.2"/>
<rect x="-2.8999999999999995" y="-2.4" width="5.799999999999999" height="4.8" rx="2.30" ry="2.30" fill="#f6b8e6" stroke="#fbe0f4" stroke-width="0.8" stroke-dasharray="0.7 0.9"/>
</g>
</g>
<g transform="translate(576.1 21.8)" fill="none" stroke="#2c3140" stroke-width="1.05" stroke-linejoin="round" stroke-linecap="round">
<path d="M0.6 0.4 V9.9 H9.2 V0.4"/>
<path d="M0.6 1.6 C2.5 3.6 3.3 6.4 3.3 9.9 M9.2 1.6 C7.3 3.6 6.5 6.4 6.5 9.9"/>
<path d="M4.9 0 L5.9 4.4 L4.9 9.9 L3.9 4.4 Z" fill="#2c3140" stroke-width="0.5"/>
<path d="M2.5 9.9 L4.9 14.1 L7.3 9.9 M4.9 9.9 V14.1"/>
</g>
<rect x="589.6" y="21.4" width="1.1" height="19.4" fill="#59748f"/>
<rect x="589.6" y="40.8" width="1.1" height="21.6" fill="#ece56f"/>
<text x="595.2" y="29.1" font-size="10.7" font-weight="bold" fill="#343845" textLength="46.5" lengthAdjust="spacingAndGlyphs">МІНІСТЕРСТВО</text>
<text x="595.2" y="40.2" font-size="10.7" font-weight="bold" fill="#343845" textLength="30.5" lengthAdjust="spacingAndGlyphs">ОХОРОНИ</text>
<text x="595.2" y="51.4" font-size="10.7" font-weight="bold" fill="#343845" textLength="32.3" lengthAdjust="spacingAndGlyphs">ЗДОРОВ'Я</text>
<text x="595.2" y="62.2" font-size="10.7" font-weight="bold" fill="#343845" textLength="28.8" lengthAdjust="spacingAndGlyphs">УКРАЇНИ</text>
<path d="M686 24.2 C689 15 703 14 711.5 19.6 C719.5 25.6 717.5 38 708.5 47.5 C701 55.5 692 62 686 66.8 C680 62 671 55.5 663.5 47.5 C654.5 38 652.5 25.6 660.5 19.6 C669 14 683 15 686 24.2 Z" fill="#1b9fe4" stroke="#8ee6f7" stroke-width="0.9"/>
<path d="M696.2 20.6 Q699.5 20.3 702.4 21.7" fill="none" stroke="#e9fbff" stroke-width="1.5" stroke-linecap="round"/>
<path d="M707.4 23.9 Q709.2 25.6 709.5 27.6" fill="none" stroke="#e9fbff" stroke-width="1.5" stroke-linecap="round"/>
<text x="667.7" y="38.0" font-size="9.8" font-weight="bold" fill="#b5f0ff" stroke="#b5f0ff" stroke-width="0.5" textLength="35.3" lengthAdjust="spacingAndGlyphs">ЩЕПЛЕННЯ</text>
<text x="667.7" y="44.8" font-size="4.2" font-weight="bold" fill="#b5f0ff" stroke="#b5f0ff" stroke-width="0.25" textLength="35.3" lengthAdjust="spacingAndGlyphs">ВЧАСНИЙ ЗАХИСТ</text>
<text x="676.8" y="55.0" font-size="4.6" font-weight="bold" fill="#c8f2ff" textLength="12.5" lengthAdjust="spacingAndGlyphs">unicef</text>
<circle cx="692.6" cy="53.6" r="1.7" fill="#c8f2ff"/>
</g>
</svg>
</body></html>
